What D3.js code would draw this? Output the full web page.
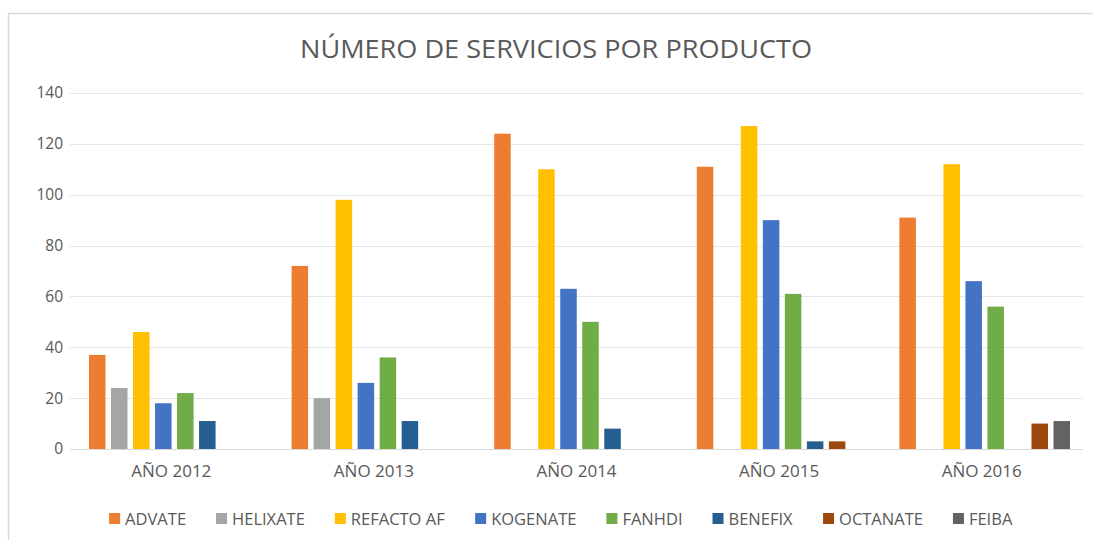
<!DOCTYPE html>
<html>
<head>
<meta charset="utf-8">
<script src="https://cdn.jsdelivr.net/npm/d3@7"></script>
<style>
  body { margin: 0; background: #fff; }
  svg { display: block; font-family: "Open Sans", "Liberation Sans", sans-serif; }
</style>
</head>
<body>
<div id="chart"></div>
<script>
// data
const years = ['AÑO 2012', 'AÑO 2013', 'AÑO 2014', 'AÑO 2015', 'AÑO 2016']
const products = ['ADVATE', 'HELIXATE', 'REFACTO AF', 'KOGENATE', 'FANHDI', 'BENEFIX', 'OCTANATE', 'FEIBA']
const colors = ['#ED7D31', '#A5A5A5', '#FFC000', '#4472C4', '#70AD47', '#255E91', '#9E480E', '#636363']
const advate = [37, 72, 124, 111, 91]
const helixate = [24, 20, 0, 0, 0]
const refacto = [46, 98, 110, 127, 112]
const kogenate = [18, 26, 63, 90, 66]
const fanhdi = [22, 36, 50, 61, 56]
const benefix = [11, 11, 8, 3, 0]
const octanate = [0, 0, 0, 3, 10]
const feiba = [0, 0, 0, 0, 11]
const yTicks = [0, 20, 40, 60, 80, 100, 120, 140]

const series = [advate, helixate, refacto, kogenate, fanhdi, benefix, octanate, feiba]

const W = 1093, H = 540
const plotLeft = 70, plotRight = 1083, plotTop = 93, plotBottom = 449

const svg = d3.select('#chart').append('svg')
    .attr('width', W)
    .attr('height', H)

// chart frame (only top and left edges show in the picture)
svg.append('path')
    .attr('d', `M8.5,${H} L8.5,13.5 L${W},13.5`)
    .attr('fill', 'none')
    .attr('stroke', '#d9d9d9')
    .attr('stroke-width', 1.5)

svg.append('text')
    .attr('x', 556)
    .attr('y', 58)
    .attr('text-anchor', 'middle')
    .attr('font-size', 26)
    .attr('textLength', 512)
    .attr('lengthAdjust', 'spacingAndGlyphs')
    .attr('fill', '#595959')
    .text('NÚMERO DE SERVICIOS POR PRODUCTO')

const y = d3.scaleLinear().domain([0, 140]).range([plotBottom, plotTop])
const x0 = d3.scaleBand().domain(years).range([plotLeft, plotRight])
const x1 = d3.scaleBand().domain(products)
    .range([19, x0.bandwidth() - 13])
    .paddingInner(0.25)

// gridlines
svg.append('g')
    .selectAll('line')
    .data(yTicks)
    .join('line')
        .attr('x1', plotLeft)
        .attr('x2', plotRight)
        .attr('y1', d => Math.round(y(d)) + 0.5)
        .attr('y2', d => Math.round(y(d)) + 0.5)
        .attr('stroke', d => d === 0 ? '#d9d9d9' : '#e6e6e6')
        .attr('stroke-width', 1)

// y axis labels
const yAxis = svg.append('g')
    .attr('transform', `translate(${plotLeft - 7},0)`)
    .call(d3.axisLeft(y).tickValues(yTicks).tickSize(0).tickPadding(0))
yAxis.select('.domain').remove()
yAxis.selectAll('text')
    .attr('font-size', 15.5)
    .attr('fill', '#595959')
    .attr('font-family', '"Open Sans", sans-serif')

// x axis labels
const xAxis = svg.append('g')
    .attr('transform', `translate(0,${plotBottom + 16})`)
    .call(d3.axisBottom(x0).tickSize(0).tickPadding(0))
xAxis.select('.domain').remove()
xAxis.selectAll('text')
    .attr('font-size', 17)
    .attr('fill', '#595959')
    .attr('font-family', '"Open Sans", sans-serif')

// bars
const groups = svg.append('g')
    .selectAll('g')
    .data(years)
    .join('g')
        .attr('transform', d => `translate(${x0(d)},0)`)

groups.selectAll('rect')
    .data((yr, i) => products.map((p, k) => ({ p, k, v: series[k][i] })).filter(d => d.v > 0))
    .join('rect')
        .attr('x', d => x1(d.p))
        .attr('width', x1.bandwidth())
        .attr('y', d => y(d.v))
        .attr('height', d => y(0) - y(d.v))
        .attr('fill', d => colors[d.k])

// legend
const legend = svg.append('g').attr('transform', 'translate(0,525)')
const items = legend.selectAll('g')
    .data(products)
    .join('g')
items.append('rect')
    .attr('width', 11)
    .attr('height', 11)
    .attr('y', -12)
    .attr('fill', (d, i) => colors[i])
items.append('text')
    .attr('x', 16)
    .attr('y', 0)
    .attr('font-size', 16.5)
    .attr('fill', '#595959')
    .text(d => d)

const widths = []
items.each(function () {
    widths.push(this.getBBox().width)
})
const gap = 30
const total = d3.sum(widths) + gap * (widths.length - 1)
let cx = 561 - total / 2
items.attr('transform', (d, i) => {
    const t = `translate(${cx},0)`
    cx += widths[i] + gap
    return t
})
</script>
</body>
</html>
